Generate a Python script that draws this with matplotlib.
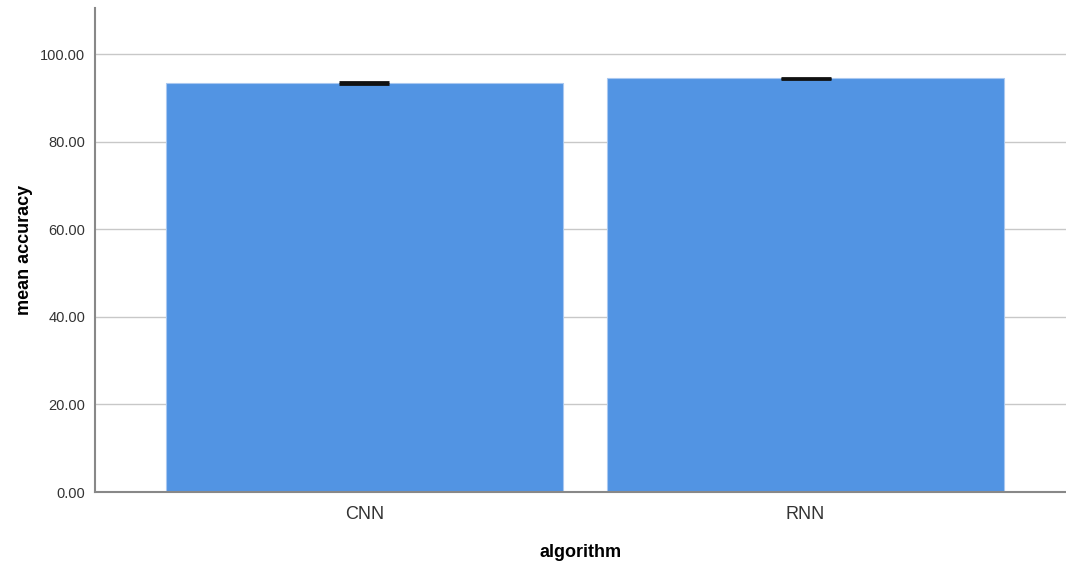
"""Mean accuracy per algorithm, bar chart with error bars."""
import matplotlib
matplotlib.use("Agg")
import matplotlib.pyplot as plt

algorithms = ["CNN", "RNN"]
mean_accuracy = [93.4, 94.5]
error = [0.15, 0.12]
y_ticks = [0, 20, 40, 60, 80, 100]

plt.rcParams["font.family"] = ["Liberation Sans", "DejaVu Sans"]

fig = plt.figure(figsize=(10.66, 5.69), dpi=100)
ax = fig.add_axes([0.0891, 0.1353, 0.9109, 0.8506])

positions = range(len(algorithms))
ax.bar(positions, mean_accuracy, width=0.9, color="#5294e3",
       edgecolor="#a9c8f0", linewidth=0.8, zorder=2)
ax.errorbar(positions, mean_accuracy, yerr=error, fmt="none", ecolor="#111111",
            elinewidth=1.5, capsize=18, capthick=2, zorder=3)

ax.set_xlim(-0.61, 1.59)
ax.set_ylim(0, 110.5)
ax.set_xticks(list(positions))
ax.set_xticklabels(algorithms, fontsize=13, color="#333333")
ax.set_yticks(y_ticks)
ax.set_yticklabels([f"{v:.2f}" for v in y_ticks], fontsize=10.5, color="#333333")
ax.tick_params(axis="x", length=0, pad=10)
ax.tick_params(axis="y", length=0, pad=7)

ax.grid(axis="y", color="#c8c8c8", linewidth=1, zorder=0)
ax.set_axisbelow(True)
for side in ("top", "right"):
    ax.spines[side].set_visible(False)
for side in ("left", "bottom"):
    ax.spines[side].set_color("#888888")
    ax.spines[side].set_linewidth(1.5)

ax.set_xlabel("algorithm", fontsize=13, fontweight="bold", labelpad=15)
ax.set_ylabel("mean accuracy", fontsize=13, fontweight="bold", labelpad=5)

fig.savefig("out.png", dpi=100)
